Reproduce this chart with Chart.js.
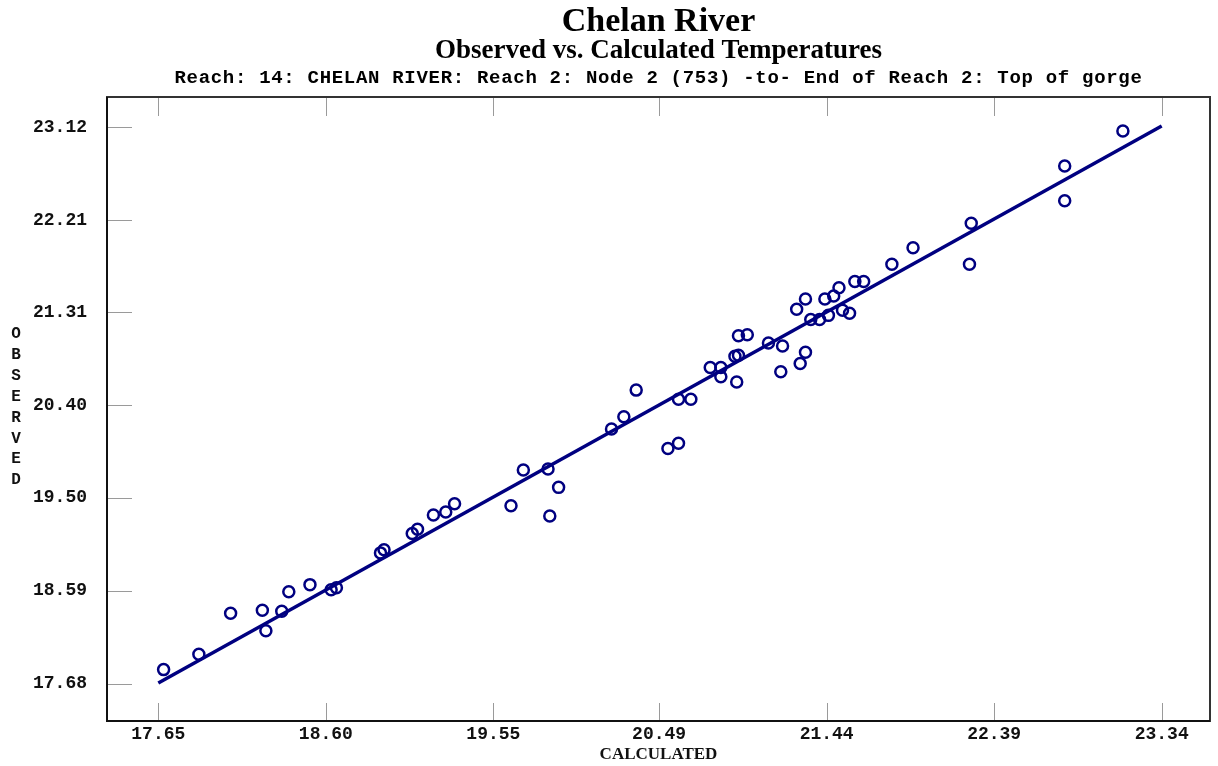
<!DOCTYPE html>
<html>
<head>
<meta charset="utf-8">
<script src="https://cdn.jsdelivr.net/npm/chart.js@4.4.1/dist/chart.umd.min.js"></script>
<style>
  html, body { margin: 0; padding: 0; background: #fff; }
  canvas { display: block; }
</style>
</head>
<body>
<canvas id="scatter" width="1218" height="766"></canvas>
<script>
var chartTitle = "Chelan River";
var chartSubtitle = "Observed vs. Calculated Temperatures";
var reachLabel = "Reach: 14: CHELAN RIVER: Reach 2: Node 2 (753) -to- End of Reach 2: Top of gorge";
var xTitle = "CALCULATED";
var yTitle = "OBSERVED";

var calculated = [17.68, 17.88, 18.06, 18.24, 18.26, 18.35, 18.39, 18.51, 18.63, 18.66,
    18.91, 18.93, 19.09, 19.12, 19.21, 19.28, 19.33, 19.65, 19.72, 19.86,
    19.92, 19.87, 20.22, 20.29, 20.36, 20.54, 20.60, 20.60, 20.67, 20.78,
    20.84, 20.84, 20.93, 20.92, 20.94, 20.94, 20.99, 21.11, 21.19, 21.18,
    21.29, 21.32, 21.27, 21.32, 21.35, 21.40, 21.43, 21.48, 21.45, 21.51,
    21.53, 21.57, 21.60, 21.65, 21.81, 21.93, 22.26, 22.25, 22.79, 22.79, 23.12];
var observed = [17.82, 17.97, 18.37, 18.40, 18.20, 18.39, 18.58, 18.65, 18.60, 18.62,
    18.96, 18.99, 19.15, 19.19, 19.33, 19.36, 19.44, 19.42, 19.77, 19.78,
    19.60, 19.32, 20.17, 20.29, 20.55, 19.98, 20.03, 20.46, 20.46, 20.77,
    20.77, 20.68, 20.63, 20.88, 20.89, 21.08, 21.09, 21.01, 20.98, 20.73,
    20.81, 20.92, 21.34, 21.44, 21.24, 21.24, 21.44, 21.47, 21.28, 21.55,
    21.33, 21.30, 21.61, 21.61, 21.78, 21.94, 22.18, 21.78, 22.74, 22.40, 23.08];

// fitted line end points
var fitCalculated = [17.65, 23.34];
var fitObserved = [17.69, 23.13];

var xTicks = [17.65, 18.60, 19.55, 20.49, 21.44, 22.39, 23.34];
var yTicks = [17.68, 18.59, 19.50, 20.40, 21.31, 22.21, 23.12];

var navy = "#000080";
var labelFont = { family: "'Liberation Mono', monospace", size: 18, weight: "bold" };

var pointData = calculated.map(function (c, i) { return { x: c, y: observed[i] }; });
var lineData = fitCalculated.map(function (c, i) { return { x: c, y: fitObserved[i] }; });

var decor = {
    id: "decor",
    beforeDatasetsDraw: function (chart) {
        var ctx = chart.ctx, a = chart.chartArea;
        var xs = chart.scales.x, ys = chart.scales.y;
        ctx.save();
        ctx.strokeStyle = "#9a9a9a";
        ctx.lineWidth = 1;
        ctx.beginPath();
        xs.ticks.forEach(function (t) {
            var px = Math.round(xs.getPixelForValue(t.value)) + 0.5;
            ctx.moveTo(px, a.bottom);
            ctx.lineTo(px, a.bottom - 18);
            ctx.moveTo(px, a.top);
            ctx.lineTo(px, a.top + 19);
        });
        ys.ticks.forEach(function (t) {
            var py = Math.round(ys.getPixelForValue(t.value)) + 0.5;
            ctx.moveTo(a.left, py);
            ctx.lineTo(a.left + 25, py);
        });
        ctx.stroke();
        ctx.strokeStyle = "#333";
        ctx.lineWidth = 2;
        ctx.strokeRect(a.left, a.top, a.right - a.left, a.bottom - a.top);
        ctx.strokeStyle = "#111";
        ctx.beginPath();
        ctx.moveTo(a.left, a.top);
        ctx.lineTo(a.left, a.bottom);
        ctx.lineTo(a.right, a.bottom);
        ctx.stroke();
        ctx.restore();
    },
    afterDraw: function (chart) {
        var ctx = chart.ctx, a = chart.chartArea;
        var cx = (a.left + a.right) / 2;
        ctx.save();
        ctx.fillStyle = "#000";
        ctx.textAlign = "center";
        ctx.textBaseline = "alphabetic";
        ctx.font = "bold 34px 'Liberation Serif'";
        ctx.fillText(chartTitle, cx, 31);
        ctx.font = "bold 27px 'Liberation Serif'";
        ctx.fillText(chartSubtitle, cx, 58);
        ctx.font = "bold 19px 'Liberation Mono'";
        ctx.letterSpacing = "0.7px";
        ctx.fillText(reachLabel, cx, 83);
        ctx.letterSpacing = "0px";
        // stacked y title
        ctx.font = "bold 16px 'Liberation Mono'";
        ctx.textBaseline = "middle";
        ctx.fillStyle = "#111";
        for (var i = 0; i < yTitle.length; i++) {
            ctx.fillText(yTitle[i], 16, 334 + i * 20.9);
        }
        ctx.restore();
    }
};

var sCtx = document.getElementById("scatter").getContext("2d");
// @ts-ignore
var scatter = new Chart(sCtx, {
    type: "scatter",
    data: {
        datasets: [
            {
                label: "Observed",
                data: pointData,
                borderColor: navy,
                backgroundColor: "rgba(0,0,0,0)",
                borderWidth: 2.5,
                pointRadius: 5.5,
                pointHoverRadius: 5.5,
            },
            {
                type: "line",
                label: "Fit",
                data: lineData,
                borderColor: navy,
                borderWidth: 3.5,
                pointRadius: 0,
                fill: false,
            },
        ],
    },
    options: {
        responsive: false,
        animation: false,
        devicePixelRatio: 1,
        layout: {
            padding: { top: 97, right: 5, left: 0, bottom: 0 },
        },
        plugins: {
            legend: { display: false },
            tooltip: { enabled: false },
            title: { display: false },
        },
        scales: {
            x: {
                type: "linear",
                position: "bottom",
                min: 17.359,
                max: 23.614,
                afterBuildTicks: function (scale) {
                    scale.ticks = xTicks.map(function (v) { return { value: v }; });
                },
                afterFit: function (scale) { scale.height = 45; },
                ticks: {
                    color: "#111",
                    font: labelFont,
                    padding: 3,
                    maxRotation: 0,
                    autoSkip: false,
                    callback: function (value) { return Number(value).toFixed(2); },
                },
                grid: { display: false, drawTicks: false },
                border: { display: false },
                title: {
                    display: true,
                    text: xTitle,
                    color: "#111",
                    font: { family: "'Liberation Serif', serif", size: 17, weight: "bold", lineHeight: 1.2 },
                    padding: { top: 0, bottom: 1 },
                },
            },
            y: {
                type: "linear",
                min: 17.318,
                max: 23.413,
                afterBuildTicks: function (scale) {
                    scale.ticks = yTicks.map(function (v) { return { value: v }; });
                },
                afterFit: function (scale) { scale.width = 107; },
                ticks: {
                    color: "#111",
                    font: labelFont,
                    padding: 20,
                    autoSkip: false,
                    callback: function (value) { return Number(value).toFixed(2); },
                },
                grid: { display: false, drawTicks: false },
                border: { display: false },
            },
        },
    },
    plugins: [decor],
});
</script>
</body>
</html>
